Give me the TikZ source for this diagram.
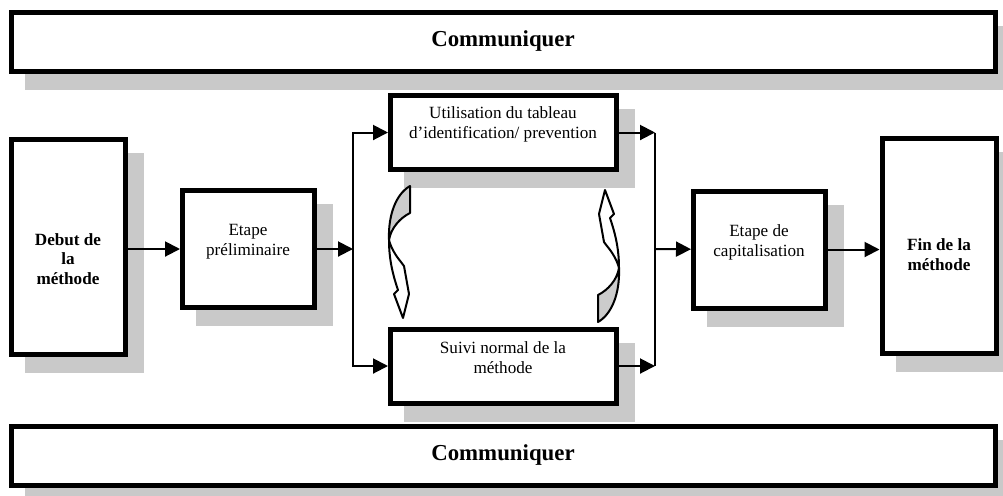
\documentclass[tikz,border=0pt]{standalone}
\usepackage{fontspec}
\setmainfont{Liberation Serif}
\usetikzlibrary{arrows.meta,calc,shadows}
\tikzset{
 stepbox/.style={draw,line width=1mm,fill=white,inner sep=0,drop shadow={shadow xshift=3.2mm,shadow yshift=-3.2mm,fill=gray!42,draw=gray!42,line width=1mm,opacity=1}},
 widebox/.style={stepbox,minimum width=196.8mm,minimum height=11.8mm},
 endbox/.style={stepbox,minimum width=22.8mm,minimum height=43mm},
 midbox/.style={stepbox,minimum width=26.4mm,minimum height=23.4mm},
 branchbox/.style={stepbox,minimum width=45.2mm,minimum height=14.8mm},
 boxtext/.style={align=center,inner sep=0,font=\fontsize{9.75}{11.3}\selectfont},
 boldtext/.style={boxtext,font=\fontsize{9.75}{11.3}\selectfont\bfseries},
 bigtext/.style={inner sep=0,font=\fontsize{13}{15}\selectfont\bfseries},
 flow/.style={line width=.4mm,-{Triangle[length=3mm,width=3mm]}},
 link/.style={line width=.4mm},
 twist/.style={draw,line width=.4mm,line join=round}
}
% curved arrow, local pixel coordinates, tail at the top
\newcommand{\twistarrow}{%
 \path[twist,fill=gray!40] (11,-68) -- (11,-41) .. controls (1,-36) and (-8,-26) .. (-10,-14)
   .. controls (-11,-39) and (-3,-60) .. (11,-68) -- cycle;
 \path[twist,fill=white] (-10,-14) .. controls (-10,8) and (-5,24) .. (-1,36)
   -- (-5,40) -- (4,64) -- (10,40) -- (5,12) -- (2,8) .. controls (-3,2) and (-8,-6) .. (-10,-14) -- cycle;
}

\begin{document}
\begin{tikzpicture}[x=.2mm,y=-.2mm]
\useasboundingbox (0,0) rectangle (1003,495);
% boxes
\node[widebox] (comtop) at (503.5,42) {};
\node[endbox] (debut) at (68.5,247) {};
\node[midbox] (prelim) at (248.5,249) {};
\node[branchbox] (util) at (503.5,132.5) {};
\node[branchbox] (suivi) at (503.5,366) {};
\node[midbox] (capit) at (759.5,249.5) {};
\node[endbox] (fin) at (939,246) {};
\node[widebox] (combot) at (503.5,456) {};
% texts
\node[bigtext] (comtoptxt) at (503,41) {Communiquer};
\node[boldtext] (debuttxt) at (68,259) {Debut de\\la\\méthode};
\node[boxtext] (prelimtxt) at (248,242) {Etape\\préliminaire};
\node[boxtext] (utiltxt) at (503,124) {Utilisation du tableau\\d’identification/ prevention};
\node[boxtext] (suivitxt) at (503,358) {Suivi normal de la\\méthode};
\node[boxtext] (capittxt) at (759,242) {Etape de\\capitalisation};
\node[boldtext] (fintxt) at (939,255) {Fin de la\\méthode};
\node[bigtext] (combottxt) at (503,455) {Communiquer};
% connectors
\coordinate (split) at (353,249);
\coordinate (join) at (655,249);
\draw[flow] (debut.east |- prelim) -- (prelim);
\draw[flow] (prelim) -- (split);
\draw[flow] (split) |- (util);
\draw[flow] (split) |- (suivi);
\draw[flow] (util) -- (util -| join);
\draw[flow] (suivi) -- (suivi -| join);
\draw[link] (util -| join) -- (suivi -| join);
\draw[flow] (join) -- (capit);
\draw[flow] (capit) -- (capit -| fin.west);
% curved arrows
\begin{scope}[shift={(399,254)}]
 \twistarrow
\end{scope}
\begin{scope}[shift={(609,254)},rotate=180]
 \twistarrow
\end{scope}
\end{tikzpicture}
\end{document}
